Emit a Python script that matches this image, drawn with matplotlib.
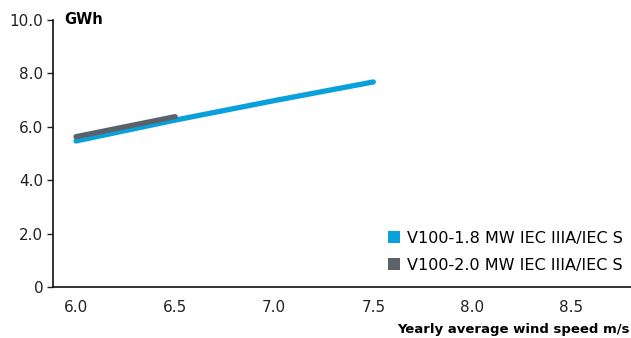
import matplotlib
matplotlib.use("Agg")
import matplotlib.pyplot as plt
from matplotlib.patches import Patch

wind_speed_18 = [6.0, 6.5, 7.0, 7.5]
energy_18 = [5.47, 6.25, 6.98, 7.68]
wind_speed_20 = [6.0, 6.5]
energy_20 = [5.63, 6.38]
series_labels = ["V100-1.8 MW IEC IIIA/IEC S", "V100-2.0 MW IEC IIIA/IEC S"]
colors = ["#0AA0DC", "#5A6169"]
y_ticks = [0, 2, 4, 6, 8, 10]
y_tick_labels = ["0", "2.0", "4.0", "6.0", "8.0", "10.0"]
x_ticks = [6.0, 6.5, 7.0, 7.5, 8.0, 8.5]

fig = plt.figure(figsize=(6.31, 3.38), dpi=100)
ax = fig.add_axes([53 / 631, 1 - 287 / 338, 578 / 631, 267 / 338])

ax.plot(wind_speed_18, energy_18, color=colors[0], lw=3.8, solid_capstyle="round")
ax.plot(wind_speed_20, energy_20, color=colors[1], lw=3.8, solid_capstyle="round")

ax.set_xlim(5.884, 8.80)
ax.set_ylim(0, 10)
ax.set_yticks(y_ticks)
ax.set_yticklabels(y_tick_labels)
ax.set_xticks(x_ticks)
ax.set_xticklabels([f"{v:.1f}" for v in x_ticks])
ax.tick_params(axis="y", length=4, width=1, labelsize=11, colors="#222222", pad=3)
ax.tick_params(axis="x", length=0, labelsize=11, colors="#222222", pad=9)
for s in ["top", "right"]:
    ax.spines[s].set_visible(False)
for s in ["left", "bottom"]:
    ax.spines[s].set_linewidth(1.2)
    ax.spines[s].set_color("#111111")

ax.text(0.02, 1.0, "GWh", transform=ax.transAxes, fontsize=10.5, fontweight="bold",
        va="center", ha="left")
fig.text(0.998, 1 - 330 / 338, "Yearly average wind speed m/s", fontsize=9.5,
         fontweight="bold", ha="right", va="center")

handles = [Patch(facecolor=c, edgecolor="none") for c in colors]
ax.legend(handles, series_labels, loc="lower right", bbox_to_anchor=(1.005, 0.012),
          frameon=False, fontsize=11.5, handlelength=0.75, handleheight=0.75,
          handletextpad=0.45, labelspacing=0.75, borderaxespad=0.3)

fig.savefig("out.png", dpi=100)
